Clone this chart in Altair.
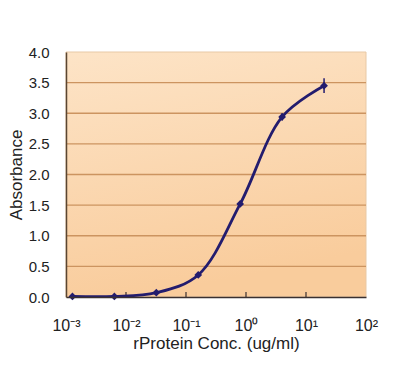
import altair as alt
import pandas as pd

conc = [0.00128, 0.0064, 0.032, 0.16, 0.8, 4.0, 20.0]
absorbance = [0.01, 0.01, 0.07, 0.36, 1.52, 2.94, 3.45]
err = [0.02, 0.02, 0.03, 0.04, 0.04, 0.06, 0.12]
grid_values = [0.5, 1.0, 1.5, 2.0, 2.5, 3.0, 3.5]
y_ticks = [0, 0.5, 1, 1.5, 2, 2.5, 3, 3.5, 4]
decades = [0.001, 0.01, 0.1, 1, 10, 100]
x_labels = ["10⁻³", "10⁻²", "10⁻¹", "10⁰", "10¹", "10²"]

W, H = 300, 245

df = pd.DataFrame({"conc": conc, "abs": absorbance, "err": err})
df["lo"] = df["abs"] - df["err"]
df["hi"] = df["abs"] + df["err"]

label_expr = (
    "datum.value < 0.005 ? '" + x_labels[0] + "' : datum.value < 0.05 ? '" + x_labels[1]
    + "' : datum.value < 0.5 ? '" + x_labels[2] + "' : datum.value < 5 ? '" + x_labels[3]
    + "' : datum.value < 50 ? '" + x_labels[4] + "' : '" + x_labels[5] + "'"
)

xscale = alt.Scale(type="log", domain=[0.001, 100], nice=False)
yscale = alt.Scale(domain=[0, 4], nice=False)

font = "Liberation Sans"

xaxis = alt.Axis(values=decades, labelExpr=label_expr, grid=False, ticks=False,
                 domainColor="#3a3030", domainWidth=1.5, labelFont=font, labelFontSize=16,
                 labelColor="#222", labelBaseline="middle", labelPadding=28,
                 labelOverlap=False, labelBound=False, labelFlush=False,
                 title="rProtein Conc. (ug/ml)", titleFont=font, titleFontSize=17,
                 titleFontWeight="normal", titleColor="#222", titleY=46,
                 titleBaseline="middle", zindex=1)
yaxis = alt.Axis(values=y_ticks, format=".1f", grid=False,
                 ticks=False, domainColor="#5a4632", domainWidth=1.5, labelFont=font,
                 labelFontSize=15, labelColor="#222", labelPadding=17,
                 labelOverlap=False, labelBound=False, labelFlush=False,
                 title="Absorbance", titleFont=font, titleFontSize=17,
                 titleFontWeight="normal", titleColor="#222", titleX=-50, titleY=H / 2,
                 titleAngle=270, titleAlign="center", titleBaseline="middle", zindex=1)

bg = alt.Chart(alt.Data(values=[{"a": 1}])).mark_rect(
    fill=alt.LinearGradient(
        gradient="linear", x1=0, y1=0, x2=0.25, y2=1,
        stops=[alt.GradientStop(color="#fde4c7", offset=0),
               alt.GradientStop(color="#f9cc9c", offset=1)]),
    stroke="#e8c9a6", strokeWidth=1,
).encode(x=alt.value(0), x2=alt.value(W), y=alt.value(0), y2=alt.value(H))

grid = alt.Chart(pd.DataFrame({"g": grid_values})).mark_rule(
    color="#cc9460", strokeWidth=1.3
).encode(y=alt.Y("g:Q", scale=yscale, axis=yaxis))

ticks = alt.Chart(pd.DataFrame({"d": decades[1:-1]})).mark_rule(
    color="#3a3030", strokeWidth=1.2
).encode(x=alt.X("d:Q", scale=xscale, axis=xaxis), y=alt.value(H), y2=alt.value(H - 5))

base = alt.Chart(df)
line = base.mark_line(color="#231c6e", strokeWidth=2.8, interpolate="catmull-rom").encode(
    x=alt.X("conc:Q", scale=xscale, axis=xaxis),
    y=alt.Y("abs:Q", scale=yscale, axis=yaxis),
)
ebar = base.mark_rule(color="#231c6e", strokeWidth=1.5).encode(
    x=alt.X("conc:Q", scale=xscale, axis=xaxis), y=alt.Y("lo:Q", scale=yscale, axis=yaxis), y2="hi:Q"
)
pts = base.mark_point(shape="diamond", filled=True, size=60, color="#231c6e", opacity=1).encode(
    x=alt.X("conc:Q", scale=xscale, axis=xaxis), y=alt.Y("abs:Q", scale=yscale, axis=yaxis)
)

chart = alt.layer(bg, grid, ticks, line, ebar, pts).properties(
    width=W, height=H,
    autosize=alt.AutoSizeParams(type="none"),
    padding={"left": 58, "top": 44, "right": 24, "bottom": 64},
    background="white",
).configure_view(stroke=None).configure_axis(labelOverlap=False)

chart.save("out.html", embed_options={"renderer": "svg", "actions": False})
